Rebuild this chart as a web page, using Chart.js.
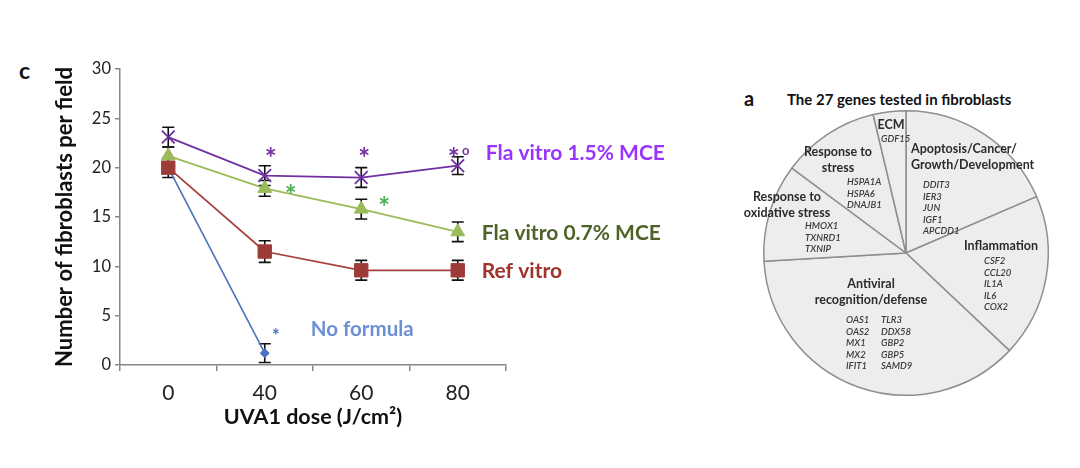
<!DOCTYPE html>
<html>
<head>
<meta charset="utf-8">
<script src="https://cdn.jsdelivr.net/npm/chart.js@4"></script>
<style>
  body { margin: 0; background: #fff; width: 1080px; height: 468px; overflow: hidden; position: relative; font-family: Lato, sans-serif; }
  #lineBox { position: absolute; left: 0; top: 0; width: 700px; height: 468px; }
  #pieBox { position: absolute; left: 730px; top: 100px; width: 350px; height: 368px; }
  .tag { position: absolute; font-weight: bold; color: #111; line-height: 1; }
</style>
</head>
<body>
<div class="tag" style="left:19px;top:59px;font-size:23px">c</div>
<div class="tag" style="left:744px;top:88px;font-size:20px">a</div>
<div class="tag" style="left:787px;top:92px;font-size:15px">The 27 genes tested in fibroblasts</div>
<div id="lineBox"><canvas id="line"></canvas></div>
<div id="pieBox"><canvas id="pie"></canvas></div>
<script>
// line chart data (UVA1 dose vs fibroblasts per field)
const doses = ['0', '40', '60', '80'];
const yTicks = [0, 5, 10, 15, 20, 25, 30];
const fla15 = [23.1, 19.2, 19.0, 20.2];
const fla15Err = [1.0, 1.0, 1.0, 0.9];
const fla07 = [21.2, 17.9, 15.8, 13.5];
const fla07Err = [0.9, 0.8, 1.0, 1.0];
const refVitro = [20.0, 11.5, 9.6, 9.6];
const refErr = [1.0, 1.1, 1.0, 1.0];
const noFormula = [20.0, 1.2, null, null];
const noFormulaErr = [null, 0.95, null, null];

// pie chart data (27 genes by group)
const pieGroups = [
  ['Apoptosis/Cancer/', 'Growth/Development'],
  ['Inflammation'],
  ['Antiviral', 'recognition/defense'],
  ['Response to', 'oxidative stress'],
  ['Response to', 'stress'],
  ['ECM']
];
const pieCounts = [5, 5, 10, 3, 3, 1];
const pieGenes = [
  ['DDIT3', 'IER3', 'JUN', 'IGF1', 'APCDD1'],
  ['CSF2', 'CCL20', 'IL1A', 'IL6', 'COX2'],
  ['OAS1', 'OAS2', 'MX1', 'MX2', 'IFIT1', 'TLR3', 'DDX58', 'GBP2', 'GBP5', 'SAMD9'],
  ['HMOX1', 'TXNRD1', 'TXNIP'],
  ['HSPA1A', 'HSPA6', 'DNAJB1'],
  ['GDF15']
];

const FONT = 'Lato, sans-serif';

const errorBars = {
  id: 'errorBars',
  beforeDatasetsDraw(chart) {
    const { ctx, scales: { x, y } } = chart;
    ctx.save();
    ctx.strokeStyle = '#111';
    ctx.lineWidth = 1.6;
    chart.data.datasets.forEach(ds => {
      if (!ds.errors) return;
      ds.data.forEach((v, j) => {
        const e = ds.errors[j];
        if (v == null || e == null) return;
        const px = x.getPixelForValue(j);
        const top = y.getPixelForValue(v + e);
        const bot = y.getPixelForValue(v - e);
        ctx.beginPath();
        ctx.moveTo(px, top); ctx.lineTo(px, bot);
        ctx.moveTo(px - 6, top); ctx.lineTo(px + 6, top);
        ctx.moveTo(px - 6, bot); ctx.lineTo(px + 6, bot);
        ctx.stroke();
      });
    });
    ctx.restore();
  }
};

// significance marks and series names, placed on the chart scales
const notes = [
  { text: '*', color: '#7030a0', cat: 1, val: 20.9, dx: 6, font: 'bold 28px ' + FONT },
  { text: '*', color: '#7030a0', cat: 2, val: 20.9, dx: 3, font: 'bold 28px ' + FONT },
  { text: '*', color: '#7030a0', cat: 3, val: 20.9, dx: -4, font: 'bold 28px ' + FONT },
  { text: 'o', color: '#7030a0', cat: 3, val: 21.7, dx: 8, font: 'bold 13px ' + FONT },
  { text: '*', color: '#4caf50', cat: 1, val: 17.1, dx: 26, font: 'bold 28px ' + FONT },
  { text: '*', color: '#4caf50', cat: 2, val: 15.9, dx: 23, font: 'bold 28px ' + FONT },
  { text: '*', color: '#4a72c0', cat: 1, val: 3.0, dx: 11, font: 'bold 19px ' + FONT },
  { text: 'Fla vitro 1.5% MCE', color: '#9933ff', cat: 3, val: 21.5, dx: 28, font: 'bold 21px ' + FONT, left: true },
  { text: 'Fla vitro 0.7% MCE', color: '#4f6228', cat: 3, val: 13.4, dx: 24, font: 'bold 21px ' + FONT, left: true },
  { text: 'Ref vitro', color: '#a0332d', cat: 3, val: 9.5, dx: 24, font: 'bold 21px ' + FONT, left: true },
  { text: 'No formula', color: '#6d8fd3', cat: 1, val: 3.6, dx: 46, font: 'bold 20.5px ' + FONT, left: true }
];

const noteLabels = {
  id: 'noteLabels',
  afterDatasetsDraw(chart) {
    const { ctx, scales: { x, y } } = chart;
    ctx.save();
    ctx.textBaseline = 'middle';
    notes.forEach(n => {
      ctx.font = n.font;
      ctx.fillStyle = n.color;
      ctx.textAlign = n.left ? 'left' : 'center';
      ctx.fillText(n.text, x.getPixelForValue(n.cat) + n.dx, y.getPixelForValue(n.val));
    });
    ctx.restore();
  }
};

new Chart(document.getElementById('line'), {
  type: 'line',
  data: {
    labels: doses,
    datasets: [
      { label: 'Fla vitro 1.5% MCE', data: fla15, errors: fla15Err, borderColor: '#7030a0', backgroundColor: '#7030a0',
        pointStyle: 'crossRot', pointRadius: 9, pointBorderWidth: 1.8, borderWidth: 1.8 },
      { label: 'Fla vitro 0.7% MCE', data: fla07, errors: fla07Err, borderColor: '#9bbb59', backgroundColor: '#9bbb59',
        pointStyle: 'triangle', pointRadius: 8, pointBorderWidth: 1, borderWidth: 1.8 },
      { label: 'Ref vitro', data: refVitro, errors: refErr, borderColor: '#a5403d', backgroundColor: '#9c3b37',
        pointStyle: 'rect', pointRadius: 9.5, pointBorderWidth: 1, borderWidth: 1.8 },
      { label: 'No formula', data: noFormula, errors: noFormulaErr, borderColor: '#4a72c0', backgroundColor: '#4a72c0',
        pointStyle: 'rectRot', pointRadius: 4.5, pointBorderWidth: 1, borderWidth: 1.6 }
    ]
  },
  options: {
    responsive: true,
    maintainAspectRatio: false,
    animation: false,
    layout: { padding: { left: 48, right: 194, top: 69, bottom: 34 } },
    plugins: { legend: { display: false }, tooltip: { enabled: false } },
    scales: {
      x: {
        offset: true,
        grid: { offset: true, drawOnChartArea: false, tickLength: 6, color: '#888', lineWidth: 1.5 },
        border: { color: '#888', width: 1.5 },
        ticks: { color: '#222', font: { family: FONT, size: 21 }, padding: 10 },
        title: { display: true, text: 'UVA1 dose (J/cm²)', color: '#111', font: { family: FONT, size: 21.5, weight: 'bold' } },
        afterFit: s => { s.height = 69; }
      },
      y: {
        min: 0,
        max: 30,
        afterBuildTicks: s => { s.ticks = yTicks.map(v => ({ value: v })); },
        grid: { drawOnChartArea: false, tickLength: 5, color: '#888', lineWidth: 1.5 },
        border: { color: '#888', width: 1.5 },
        ticks: { color: '#222', font: { family: FONT, size: 16.5 }, padding: 4 },
        title: { display: true, text: 'Number of fibroblasts per field', color: '#111', font: { family: FONT, size: 22, weight: 'bold' } },
        afterFit: s => { s.width = 72; }
      }
    }
  },
  plugins: [errorBars, noteLabels]
});

// text placement inside the pie, offsets from the pie centre
const pieLayout = [
  { tx: 5, ty: -104, align: 'left', gx: 17, gy: -68 },
  { tx: 95, ty: -7, align: 'center', gx: 78, gy: 8 },
  { tx: -35, ty: 31, align: 'center', gx: -60, gy: 67, col2: 35 },
  { tx: -119, ty: -56, align: 'center', gx: -101, gy: -27 },
  { tx: -68, ty: -101, align: 'center', gx: -59, gy: -71 },
  { tx: -15, ty: -128, align: 'center', gx: -25, gy: -114 }
];

const pieText = {
  id: 'pieText',
  afterDatasetsDraw(chart) {
    const { ctx } = chart;
    const arc = chart.getDatasetMeta(0).data[0];
    const cx = arc.x, cy = arc.y;
    ctx.save();
    ctx.textBaseline = 'middle';
    pieLayout.forEach((L, i) => {
      ctx.font = 'bold 12.5px ' + FONT;
      ctx.fillStyle = '#2b2b2b';
      ctx.textAlign = L.align;
      pieGroups[i].forEach((line, k) => ctx.fillText(line, cx + L.tx, cy + L.ty + k * 15.5));
      ctx.font = 'italic 600 9.5px ' + FONT;
      ctx.fillStyle = '#3a3a3a';
      ctx.textAlign = 'left';
      const shift = L.col2 || 0;
      pieGenes[i].forEach((g, k) => {
        const col = shift && k >= 5 ? 1 : 0;
        const row = shift ? k % 5 : k;
        ctx.fillText(g, cx + L.gx + col * shift, cy + L.gy + row * 11.6);
      });
    });
    ctx.restore();
  }
};

new Chart(document.getElementById('pie'), {
  type: 'pie',
  data: {
    labels: pieGroups.map(g => g.join(' ')),
    datasets: [{
      data: pieCounts,
      backgroundColor: '#ededed',
      borderColor: '#8f8f8f',
      borderWidth: 1.5
    }]
  },
  options: {
    responsive: true,
    maintainAspectRatio: false,
    animation: false,
    layout: { padding: { left: 33, right: 31, top: 10, bottom: 72 } },
    plugins: { legend: { display: false }, tooltip: { enabled: false } }
  },
  plugins: [pieText]
});
</script>
</body>
</html>
